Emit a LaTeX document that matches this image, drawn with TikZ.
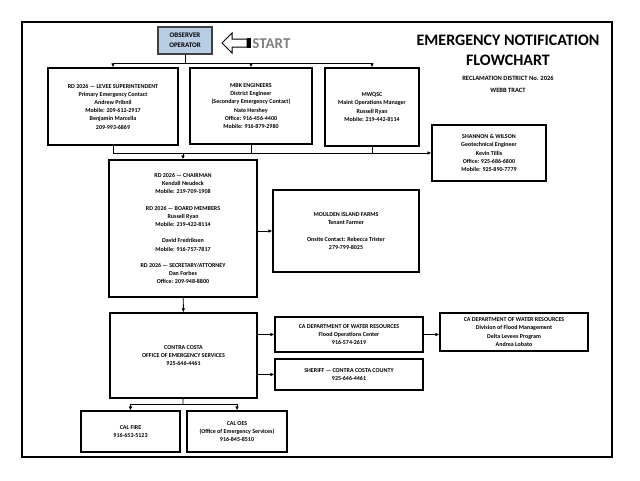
\documentclass[tikz,border=0pt]{standalone}
\usepackage{fontspec}
\setmainfont{Carlito}
\usetikzlibrary{arrows.meta}

\definecolor{obsblue}{HTML}{B9CDE5}
\definecolor{startgray}{HTML}{808080}

\begin{document}
\begin{tikzpicture}[x=1pt, y=-1pt, line width=0.9pt,
	-{Latex[length=4pt,width=3.5pt]},
	box/.style={draw, line width=1.1pt, fill=white, align=center, inner sep=1pt,
		font=\bfseries\fontsize{6}{8.2}\selectfont}]
	\useasboundingbox (0,0) rectangle (640,480);
	\draw[-, line width=1.4pt] (22,22) rectangle (612,457);

	\node [box, fill=obsblue, draw=black!75, font=\bfseries\fontsize{7}{10}\selectfont,
		minimum width=54pt, minimum height=27pt] (obs) at (185,40.5) {OBSERVER\\OPERATOR};
	\draw [-, fill=white, line width=1pt] (222,43) -- (232,33) -- (232,39) -- (247,39)
		-- (247,47) -- (232,47) -- (232,53) -- cycle;
	\fill (247,38) rectangle (251,48);
	\node [text=startgray, font=\bfseries\fontsize{15}{18}\selectfont, anchor=west, inner sep=0pt]
		(start) at (252,43.5) {START};

	\node [align=center, font=\bfseries\fontsize{16}{20}\selectfont] (title) at (508,50)
		{EMERGENCY NOTIFICATION\\FLOWCHART};
	\node [align=center, font=\bfseries\fontsize{6.5}{12}\selectfont] (rd) at (508,84.5)
		{RECLAMATION DISTRICT No. 2026\\WEBB TRACT};

	\node [box, minimum width=130pt, minimum height=77pt] (lev) at (113,106.5)
		{RD 2026 --- LEVEE SUPERINTENDENT\\Primary Emergency Contact\\Andrew Pribnil\\
		Mobile: 209-612-2917\\Benjamin Marcella\\209-993-6869};
	\node [box, minimum width=122pt, minimum height=76pt] (mbk) at (251,106)
		{MBK ENGINEERS\\District Engineer\\(Secondary Emergency Contact)\\Nate Hershey\\
		Office: 916-456-4400\\Mobile: 916-879-2980};
	\node [box, minimum width=94pt, minimum height=78pt] (mwq) at (372,107)
		{MWQSC\\Maint Operations Manager\\Russell Ryan\\Mobile: 219-442-8114};
	\node [box, minimum width=114pt, minimum height=56pt] (shw) at (489,153)
		{SHANNON \& WILSON\\Geotechnical Engineer\\Kevin Tillis\\
		Office: 925-686-6800\\Mobile: 925-890-7779};

	\node [box, minimum width=148pt, minimum height=137pt] (mid) at (183,228.5)
		{RD 2026 --- CHAIRMAN\\Kendall Neudeck\\Mobile: 219-709-1908\\[8.2pt]
		RD 2026 --- BOARD MEMBERS\\Russell Ryan\\Mobile: 219-422-8114\\[8.2pt]
		David Fredriksen\\Mobile: 916-757-7817\\[8.2pt]
		RD 2026 --- SECRETARY/ATTORNEY\\Dan Forbes\\Office: 209-948-8800};
	\node [box, minimum width=146pt, minimum height=82pt] (mou) at (346,231)
		{MOULDEN ISLAND FARMS\\Tenant Farmer\\[8.2pt]
		Onsite Contact: Rebecca Trister\\279-799-8025};

	\node [box, minimum width=147pt, minimum height=85pt] (cc) at (183.5,355.5)
		{CONTRA COSTA\\OFFICE OF EMERGENCY SERVICES\\925-646-4461};
	\node [box, minimum width=148pt, minimum height=35pt] (dwr) at (349,334.5)
		{CA DEPARTMENT OF WATER RESOURCES\\Flood Operations Center\\916-574-2619};
	\node [box, minimum width=148pt, minimum height=31pt] (sher) at (349,374.5)
		{SHERIFF --- CONTRA COSTA COUNTY\\925-646-4461};
	\node [box, minimum width=148pt, minimum height=38pt] (dfm) at (514,332)
		{CA DEPARTMENT OF WATER RESOURCES\\Division of Flood Management\\
		Delta Levees Program\\Andrea Lobato};

	\node [box, minimum width=99pt, minimum height=41pt] (fire) at (130.5,431.5)
		{CAL FIRE\\916-653-5123};
	\node [box, minimum width=100pt, minimum height=41pt] (oes) at (237,431.5)
		{CAL OES\\(Office of Emergency Services)\\916-845-8510};

	\coordinate (b1) at (185,63);
	\coordinate (b2) at (183,153);
	\coordinate (b3) at (183,404);

	\draw [-] (obs) -- (b1);
	\draw (b1) -| (lev);
	\draw (b1) -| (mwq);
	\draw (mbk |- b1) -- (mbk);

	\draw [-] (lev) |- (b2);
	\draw [-] (mwq) |- (b2);
	\draw [-] (mbk) -- (mbk |- b2);
	\draw (mwq |- shw) -- (shw);
	\draw (b2) -- (mid);

	\draw (mid.east |- mou) -- (mou);
	\draw (mid) -- (cc);
	\draw (cc.east |- dwr) -- (dwr);
	\draw (cc.east |- sher) -- (sher);
	\draw (dwr) -- (dwr -| dfm.west);

	\draw [-] (cc) -- (b3);
	\draw (b3) -| (fire);
	\draw (b3) -| (oes);
\end{tikzpicture}
\end{document}
